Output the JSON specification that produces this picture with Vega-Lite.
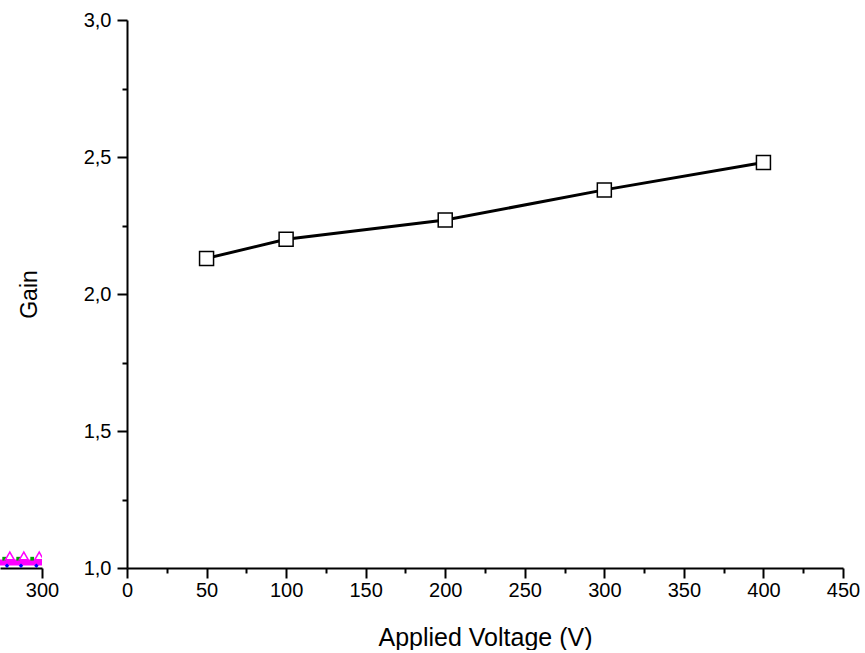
{
  "$schema": "https://vega.github.io/schema/vega-lite/v6.json",
  "padding": {"left": 0, "top": 10, "right": 0, "bottom": 0},
  "background": "white",
  "spacing": 85,
  "bounds": "flush",
  "config": {
    "view": {"stroke": null},
    "font": "Liberation Sans",
    "axis": {
      "grid": false,
      "domainColor": "black",
      "tickColor": "black",
      "labelColor": "black",
      "titleColor": "black",
      "domainWidth": 2,
      "tickWidth": 2,
      "labelFont": "Liberation Sans",
      "titleFont": "Liberation Sans",
      "labelFontSize": 20,
      "titleFontWeight": "normal"
    }
  },
  "datasets": {
    "gain": [
      {"voltage": 50, "gain": 2.13},
      {"voltage": 100, "gain": 2.2},
      {"voltage": 200, "gain": 2.27},
      {"voltage": 300, "gain": 2.38},
      {"voltage": 400, "gain": 2.48}
    ],
    "fragLine": [
      {"x": 266, "y": 1.0},
      {"x": 277, "y": 1.0},
      {"x": 287, "y": 1.0},
      {"x": 298, "y": 1.0},
      {"x": 300, "y": 1.0}
    ],
    "fragTri": [
      {"x": 277, "y": 2.2},
      {"x": 287, "y": 2.2},
      {"x": 298, "y": 2.2}
    ],
    "fragGreen": [
      {"x": 273, "y": 1.7},
      {"x": 283, "y": 1.7},
      {"x": 293, "y": 1.7}
    ],
    "fragBlue": [
      {"x": 275, "y": 0.4},
      {"x": 285, "y": 0.4},
      {"x": 296, "y": 0.4}
    ]
  },
  "hconcat": [
    {
      "width": 42,
      "height": 548,
      "layer": [
        {
          "data": {"name": "fragLine"},
          "mark": {"type": "line", "color": "#FF00FF", "strokeWidth": 6, "clip": true},
          "encoding": {
            "x": {"field": "x", "type": "quantitative", "scale": {"domain": [270, 300], "nice": false, "zero": false},
              "axis": {"values": [300], "tickSize": 10, "labelPadding": 2, "title": null, "labelFlush": false}},
            "y": {"field": "y", "type": "quantitative", "scale": {"domain": [0, 100], "nice": false}, "axis": null}
          }
        },
        {
          "data": {"name": "fragBlue"},
          "mark": {"type": "point", "shape": "diamond", "filled": true, "color": "#0000FF", "size": 20, "opacity": 1, "clip": true},
          "encoding": {
            "x": {"field": "x", "type": "quantitative"},
            "y": {"field": "y", "type": "quantitative"}
          }
        },
        {
          "data": {"name": "fragGreen"},
          "mark": {"type": "square", "color": "#00A000", "size": 14, "opacity": 1, "clip": true},
          "encoding": {
            "x": {"field": "x", "type": "quantitative"},
            "y": {"field": "y", "type": "quantitative"}
          }
        },
        {
          "data": {"name": "fragTri"},
          "mark": {"type": "point", "shape": "triangle-up", "filled": false, "color": "#FF00FF", "strokeWidth": 1.5, "size": 80, "opacity": 1, "clip": true},
          "encoding": {
            "x": {"field": "x", "type": "quantitative"},
            "y": {"field": "y", "type": "quantitative"}
          }
        }
      ]
    },
    {
      "width": 716,
      "height": 548,
      "data": {"name": "gain"},
      "layer": [
        {
          "mark": {"type": "line", "color": "black", "strokeWidth": 3},
          "encoding": {
            "x": {"field": "voltage", "type": "quantitative",
              "scale": {"domain": [0, 450], "nice": false, "zero": false},
              "axis": {"orient": "bottom", "values": [25, 75, 125, 175, 225, 275, 325, 375, 425], "tickSize": 5, "labels": false, "domain": false, "title": null}},
            "y": {"field": "gain", "type": "quantitative",
              "scale": {"domain": [1, 3], "nice": false, "zero": false},
              "axis": {"orient": "left", "values": [1.25, 1.75, 2.25, 2.75], "tickSize": 5, "labels": false, "domain": false, "title": null}}
          }
        },
        {
          "mark": {"type": "point", "shape": "square", "filled": true, "fill": "white", "stroke": "black", "strokeWidth": 1.5, "size": 196, "opacity": 1},
          "encoding": {
            "x": {"field": "voltage", "type": "quantitative", "title": "Applied Voltage (V)",
              "scale": {"domain": [0, 450], "nice": false, "zero": false},
              "axis": {"orient": "bottom", "values": [0, 50, 100, 150, 200, 250, 300, 350, 400, 450], "tickSize": 10, "labelPadding": 2, "labelFlush": false, "titleFontSize": 25, "titlePadding": 25}},
            "y": {"field": "gain", "type": "quantitative", "title": "Gain",
              "scale": {"domain": [1, 3], "nice": false, "zero": false},
              "axis": {"orient": "left", "values": [1, 1.5, 2, 2.5, 3], "tickSize": 10, "labelPadding": 6, "labelFlush": false, "labelExpr": "replace(format(datum.value, '.1f'), '.', ',')", "titleFontSize": 23, "titlePadding": 42}}
          }
        }
      ],
      "resolve": {"axis": {"x": "independent", "y": "independent"}}
    }
  ]
}
